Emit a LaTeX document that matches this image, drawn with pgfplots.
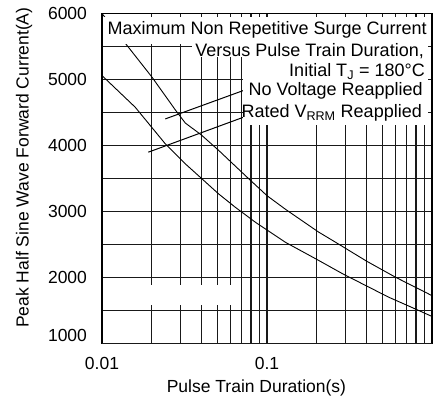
\documentclass[border=0pt]{standalone}
\usepackage{fontspec}
\setmainfont{Liberation Sans}
\usepackage{pgfplots}
\pgfplotsset{compat=1.18}

% surge current curves
\pgfplotstableread{
x      y
0.01   6000
0.0132 5615
0.0201 5035
0.028  4530
0.032  4340
0.04   4160
0.051  3925
0.0757 3520
0.1    3240
0.13   3030
0.205  2690
0.26   2535
0.4    2250
0.6    2005
0.889  1790
1.0    1725
}\novoltage
\pgfplotstableread{
x      y
0.01   5060
0.0159 4580
0.0242 4025
0.032  3722
0.0404 3494
0.0509 3267
0.0642 3065
0.085  2838
0.129  2535
0.206  2258
0.288  2055
0.546  1702
0.75   1550
1.0    1410
}\ratedv

\begin{document}
\fontsize{17.5}{20}\selectfont
\begin{tikzpicture}[x=1pt,y=1pt]
\useasboundingbox (0,0) rectangle (433,405);
\begin{axis}[
  at={(102pt,61.5pt)}, anchor=south west,
  width=330pt, height=330pt, scale only axis,
  xmode=log, xmin=0.01, xmax=1,
  ymin=1000, ymax=6000,
  xtick={0.01,0.1}, xticklabels={0.01,0.1},
  minor xtick={0.02,0.03,0.04,0.05,0.06,0.07,0.08,0.09,0.2,0.3,0.4,0.5,0.6,0.7,0.8,0.9},
  ytick={2000,3000,4000,5000,6000},
  extra y ticks={1000},
  extra y tick style={yticklabel style={yshift=8pt}},
  minor ytick={1500,2500,3500,4500,5500},
  grid=both,
  major grid style={black!90, line width=1.1pt},
  minor grid style={black!90, line width=1.1pt},
  major tick length=0pt, minor tick length=0pt,
  axis line style={black, line width=1.3pt},
  scaled y ticks=false,
  /pgf/number format/1000 sep={},
  /pgf/number format/assume math mode=true,
  yticklabel style={xshift=-9pt},
  xticklabel style={yshift=-8pt},
  xlabel={Pulse Train Duration(s)},
  ylabel={Peak Half Sine Wave Forward Current(A)},
  xlabel style={at={(axis description cs:0.468,-0.136)}, anchor=center},
  ylabel style={at={(axis description cs:-0.236,0.533)}, anchor=center},
]
\addplot[black, line width=0.9pt] table[x=x, y=y] {\novoltage};
\addplot[black, line width=0.9pt] table[x=x, y=y] {\ratedv};
% leader lines to the labels
\addplot[black, line width=1pt] coordinates {(0.0242,4403) (0.0721,4834)};
\addplot[black, line width=1pt] coordinates {(0.0191,3899) (0.0721,4429)};
\end{axis}
% white label boxes over the grid
\fill[white] (103,361) rectangle (428,388);
\fill[white] (192,348) rectangle (428,362);
\fill[white] (243,280) rectangle (428,348);
\fill[white] (145,100) rectangle (236,120);
\begin{scope}[every node/.style={anchor=east, inner sep=0pt, font=\fontsize{18}{20}\selectfont}]
\node at (427,375) {Maximum Non Repetitive Surge Current};
\node at (424,354) {Versus Pulse Train Duration,};
\node at (425,333.5) {Initial T\textsubscript{J} = 180°C};
\node at (423,314) {No Voltage Reapplied};
\node at (422,292) {Rated V\textsubscript{RRM} Reapplied};
\end{scope}
\end{tikzpicture}
\end{document}
